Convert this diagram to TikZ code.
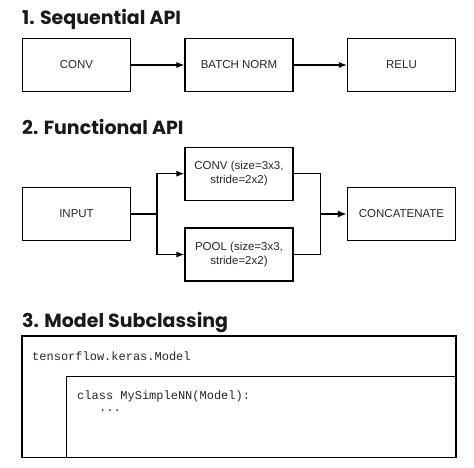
\documentclass[tikz,border=0pt]{standalone}
\usepackage{fontspec}
\setmainfont{Liberation Sans}
\newfontfamily\titlefont{Poppins}
\newfontfamily\codefont{Liberation Mono}
\usetikzlibrary{arrows.meta}
\begin{document}
\begin{tikzpicture}[x=1pt,y=-1pt,
  box/.style={draw=black,line width=1.2pt,minimum width=108pt,minimum height=53pt,inner sep=0pt,align=center,font=\fontsize{11.5}{14}\selectfont,text=black!85},
  conn/.style={line width=1.2pt,-{Latex[length=8pt,width=6pt]}},
  plain/.style={line width=1.2pt},
  heading/.style={anchor=base west,inner sep=0pt,font=\titlefont\bfseries\fontsize{19}{22}\selectfont,text=black!90},
  code/.style={anchor=base west,inner sep=0pt,font=\codefont\fontsize{12}{14}\selectfont,text=black!85}]
\useasboundingbox (0,0) rectangle (474,468);
% 1
\node[heading] (h1) at (22,25) {1. Sequential API};
\node[box] (conv) at (76.5,65) {CONV};
\node[box] (bn) at (239,65) {BATCH NORM};
\node[box] (relu) at (401.5,65) {RELU};
\draw[conn] (conv) -- (bn);
\draw[conn] (bn) -- (relu);
% 2
\node[heading] (h2) at (22,135) {2. Functional API};
\node[box] (input) at (76.5,214) {INPUT};
\node[box] (conv2) at (239,173.7) {CONV (size=3x3,\\ stride=2x2)};
\node[box] (pool) at (239,254.5) {POOL (size=3x3,\\ stride=2x2)};
\node[box] (concat) at (401.5,214) {CONCATENATE};
\coordinate (split) at (157,214);
\coordinate (merge) at (320.7,214);
\draw[plain] (input.east) -- (split);
\draw[conn] (split) |- (conv2.west);
\draw[conn] (split) |- (pool.west);
\draw[plain] (conv2.east) -| (merge);
\draw[plain] (pool.east) -| (merge);
\draw[line width=2.2pt,-{Latex[length=9pt,width=7pt]}] (merge) -- (concat.west);
% 3
\node[heading] (h3) at (22,327) {3. Model Subclassing};
\node[draw=black,line width=1.2pt,minimum width=434pt,minimum height=121.7pt,inner sep=0pt] (outer) at (239,396.85) {};
\coordinate (innertl) at (66.7,376.7);
\draw[plain] (outer.east |- innertl) -- (innertl) -- (innertl |- outer.south);
\node[code] (t1) at (32,360) {tensorflow.keras.Model};
\node[code] (t2) at (77,399) {class MySimpleNN(Model):};
\node[code] (t3) at (99,411) {...};
\end{tikzpicture}
\end{document}
